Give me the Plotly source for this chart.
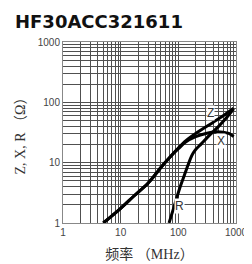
import math
import plotly.graph_objects as go

# Data (frequency in MHz, impedance in ohms)
z_freq = [5, 10, 17, 30, 55, 83, 100, 134, 200, 400, 600, 910]
z_vals = [1.0, 1.75, 2.8, 4.6, 9.3, 14.5, 17.5, 23, 30.5, 46.5, 60, 80]

x_freq = [5, 10, 17, 30, 55, 83, 100, 134, 200, 300, 450, 600, 750, 910]
x_vals = [1.0, 1.75, 2.8, 4.6, 9.3, 14.3, 17, 22, 27, 30.5, 32.5, 32, 30.5, 27]

r_freq = [69, 85, 104, 125, 140, 163, 180, 200, 250, 322, 500, 700, 910]
r_vals = [1.0, 1.9, 3.6, 5.9, 8.0, 11.8, 14.3, 16.5, 20.5, 26.5, 40, 57, 78]

tick_vals = [1, 10, 100, 1000]
tick_text = ["1", "10", "100", "1000"]

curve_labels = ["Z", "X", "R"]
label_freq = [357, 539, 104]
label_vals = [66.5, 22.6, 1.88]

title_text = "HF30ACC321611"
x_title = "频率 （MHz）"
y_title = "Z, X, R （Ω）"

fig = go.Figure()
for f, v in [(z_freq, z_vals), (x_freq, x_vals), (r_freq, r_vals)]:
    fig.add_trace(go.Scatter(x=f, y=v, mode="lines",
                             line=dict(color="black", width=3, shape="spline", smoothing=0.9),
                             showlegend=False, hoverinfo="skip"))

for lab, f, v in zip(curve_labels, label_freq, label_vals):
    fig.add_annotation(x=math.log10(f), y=math.log10(v), text=lab, showarrow=False,
                       font=dict(family="Liberation Sans, Arial", size=12, color="#333"),
                       bgcolor="white", borderpad=0)

fig.add_annotation(xref="paper", yref="paper", x=-0.29, y=1.115, xanchor="left", yanchor="middle",
                   text="<b>" + title_text + "</b>", showarrow=False,
                   font=dict(family="DejaVu Sans, Liberation Sans", size=18, color="#111"))

axis_common = dict(
    type="log", showgrid=True, gridcolor="#505050", gridwidth=1,
    tickvals=tick_vals, ticktext=tick_text, ticks="",
    tickfont=dict(family="Liberation Sans, Arial", size=10, color="#444"),
    showline=True, linecolor="#888", linewidth=1, zeroline=False,
    minor=dict(showgrid=True, gridcolor="#505050", gridwidth=1, dtick="D1"),
)

fig.update_xaxes(range=[0, 3], title=dict(text=x_title, standoff=12,
                 font=dict(family="Liberation Serif, Noto Sans CJK SC", size=14, color="#333")),
                 mirror=True, **axis_common)
fig.update_yaxes(range=[0, 3], title=dict(text=y_title, standoff=8,
                 font=dict(family="Liberation Serif, Noto Sans CJK SC", size=14, color="#333")),
                 mirror=True, **axis_common)

fig.update_layout(width=252, height=264, margin=dict(l=54, r=14, t=34, b=44),
                  paper_bgcolor="white", plot_bgcolor="white")

fig.write_html("out.html")
